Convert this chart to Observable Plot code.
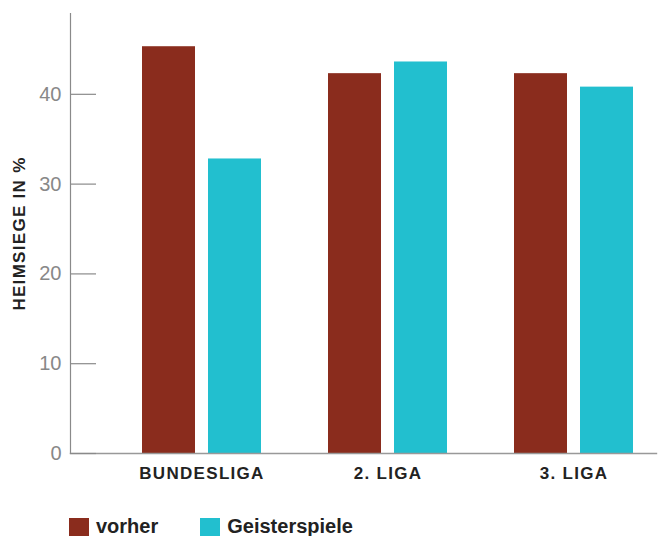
<!DOCTYPE html>
<html>
<head>
<meta charset="utf-8">
<script src="https://cdn.jsdelivr.net/npm/d3@7"></script>
<script src="https://cdn.jsdelivr.net/npm/@observablehq/plot@0.6"></script>
<style>
  html, body { margin: 0; padding: 0; background: #fff; }
  body { width: 662px; height: 536px; overflow: hidden; font-family: "Liberation Sans", Arial, sans-serif; }
  #chart svg { display: block; }
  g[aria-label="x-axis tick label"] text { letter-spacing: 1.3px; }
  g[aria-label="y-axis label"] text { font-weight: bold; fill: #222; font-size: 17px; letter-spacing: 1.3px; }
  .legend { display: flex; align-items: center; margin-top: 18px; padding-left: 69px; height: 18px; }
  .item { display: flex; align-items: center; margin-right: 42px; }
  .sw { width: 20px; height: 18px; margin-right: 7px; }
  .lab { font-size: 20px; font-weight: bold; color: #222; line-height: 15px; position: relative; top: -1px; }
</style>
</head>
<body>
<div id="chart"></div>
<script>
const leagues = ["BUNDESLIGA", "2. LIGA", "3. LIGA"];
const series = ["vorher", "Geisterspiele"];
const vorher = [45.3, 42.3, 42.3];
const geister = [32.8, 43.6, 40.8];
const colors = ["#8a2c1d", "#22bfcf"];
const yTicks = [0, 10, 20, 30, 40];

const rows = [];
leagues.forEach((l, i) => {
  rows.push({league: l, series: series[0], value: vorher[i]});
  rows.push({league: l, series: series[1], value: geister[i]});
});

const plot = Plot.plot({
  width: 662,
  height: 500,
  marginLeft: 70,
  marginRight: 6,
  marginTop: 13,
  marginBottom: 47,
  style: {fontFamily: '"Liberation Sans", Arial, sans-serif', background: "#fff"},
  x: {type: "band", domain: leagues, paddingInner: 0.36, paddingOuter: 0.255, align: 0.758, label: null},
  y: {domain: [0, 49], label: null},
  color: {domain: series, range: colors},
  marks: [
    Plot.barY(rows.filter(d => d.series === series[0]), {x: "league", y: "value", fill: "series", insetRight: 66}),
    Plot.barY(rows.filter(d => d.series === series[1]), {x: "league", y: "value", fill: "series", insetLeft: 66}),
    Plot.frame({anchor: "left", stroke: "#8a8a8a", strokeWidth: 1.2}),
    Plot.frame({anchor: "bottom", stroke: "#999", strokeWidth: 1.4}),
    Plot.axisY(yTicks, {tickSize: -26, tickPadding: 35, stroke: "#8a8a8a", strokeWidth: 1.2, fill: "#888", fontSize: 20, label: "HEIMSIEGE IN %", labelAnchor: "center", labelArrow: "none", labelOffset: 58}),
    Plot.axisX({tickSize: 0, tickPadding: 13, fontSize: 17, fontWeight: "bold", fill: "#222", label: null})
  ]
});
document.getElementById("chart").appendChild(plot);

const color = plot.scale("color");
const legend = d3.select("body").append("div").attr("class", "legend");
color.domain.forEach((s, i) => {
  const it = legend.append("div").attr("class", "item");
  it.append("div").attr("class", "sw").style("background", color.range[i]);
  it.append("span").attr("class", "lab").text(s);
});
</script>
</body>
</html>
